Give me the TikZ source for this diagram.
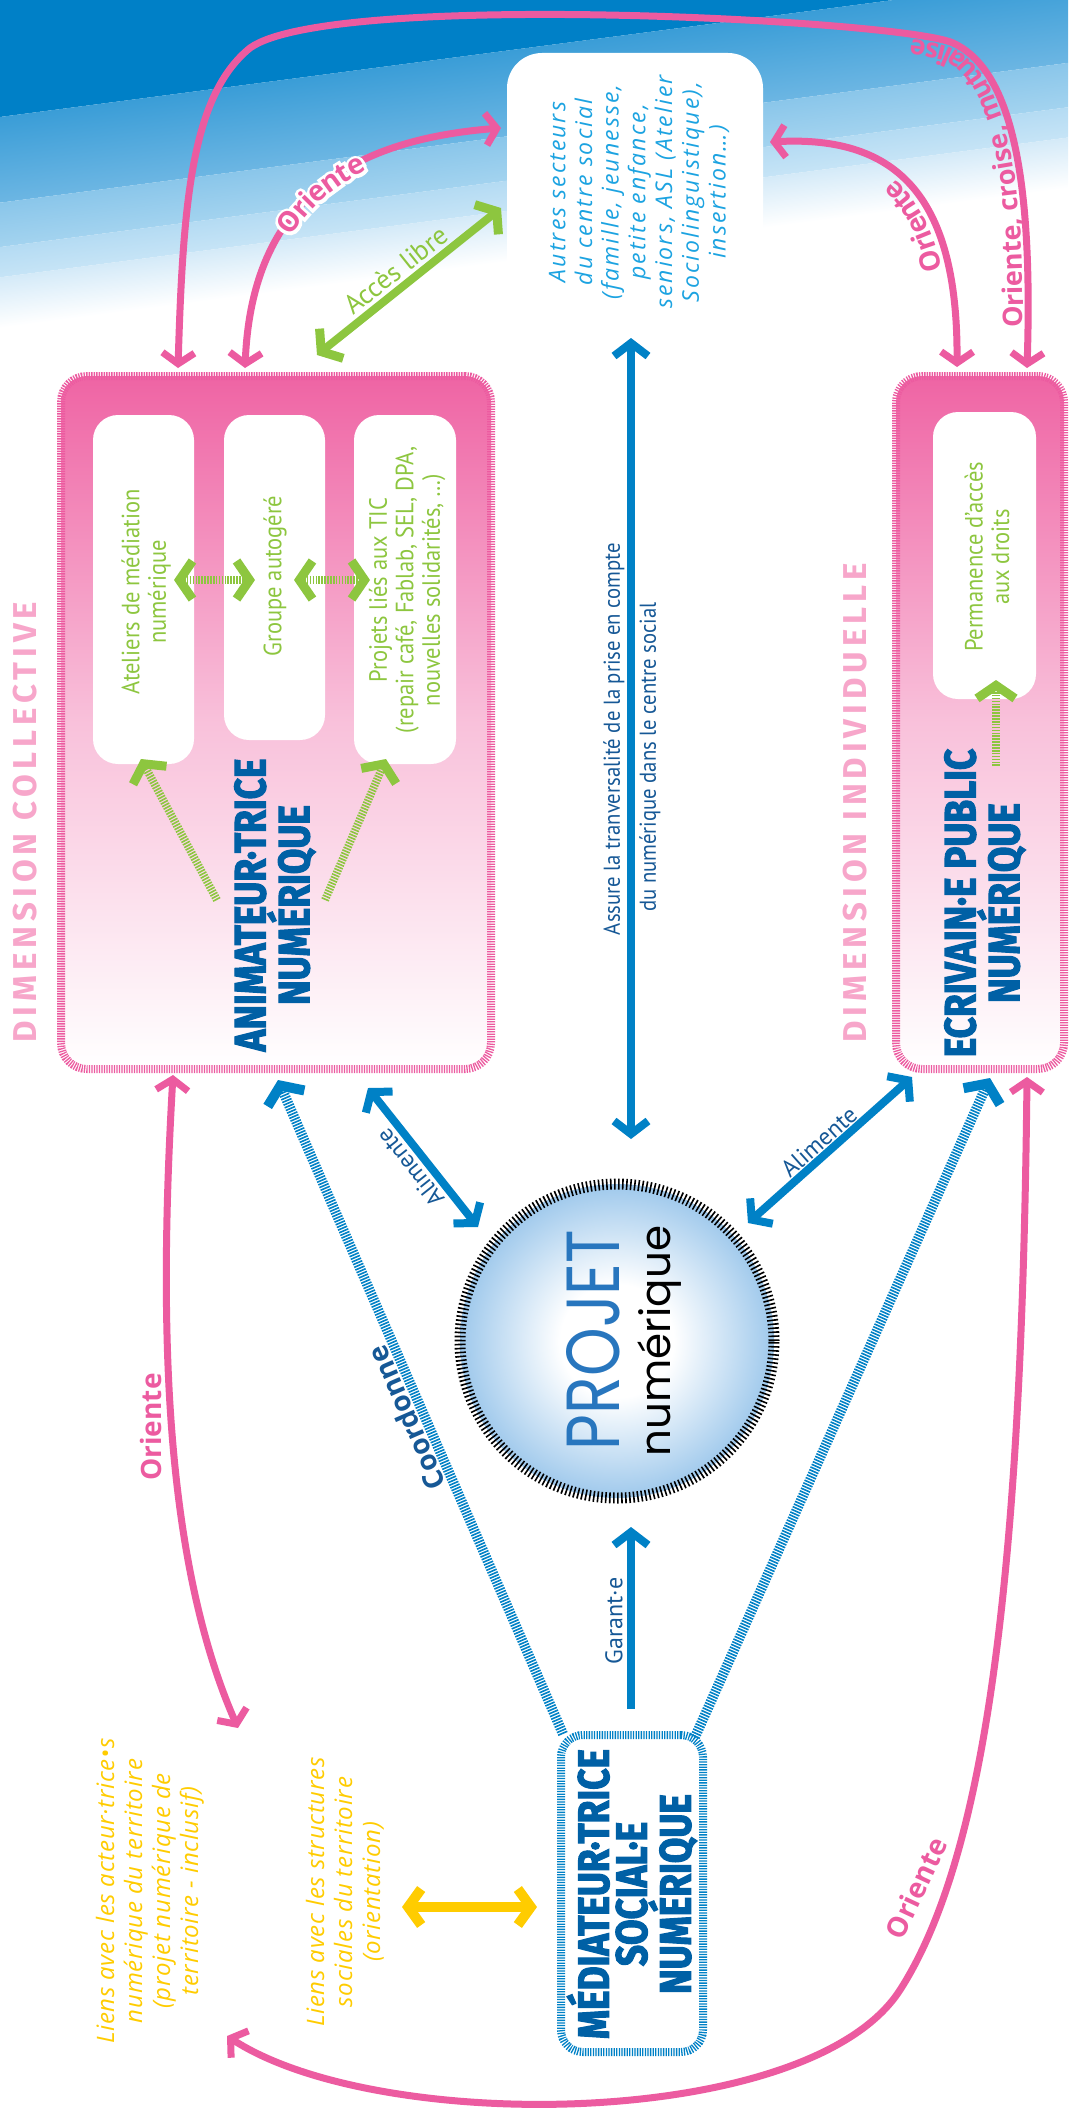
\documentclass[tikz,border=0pt]{standalone}
\usepackage{fontspec}
\usepackage{graphicx}
\usetikzlibrary{arrows.meta,decorations.text}

\newfontfamily\ositf{Open Sans}[LetterSpace=9]
\newfontfamily\yelf{Open Sans}[LetterSpace=3]
\newfontfamily\osbf{Open Sans}
\newfontfamily\halofam{Open Sans}[FakeBold=22]
\newfontfamily\ptcf{PT Sans}[FakeStretch=0.9]
\newfontfamily\ptnf{PT Sans}
\newfontfamily\ttlf{Fira Sans}[FakeStretch=0.84,FakeBold=2.5]
\newfontfamily\dimf{Fira Sans}[LetterSpace=15]
\newfontfamily\popf{Poppins}

\newcommand\orib{\osbf\bfseries\fontsize{27}{27}\selectfont}
\newcommand\oribig{\osbf\bfseries\fontsize{28}{28}\selectfont}
\newcommand\oribighalo{\halofam\bfseries\fontsize{28}{28}\selectfont}

\definecolor{skyA}{RGB}{0,128,199}
\definecolor{skyBa}{RGB}{58,157,215}
\definecolor{skyBb}{RGB}{108,182,227}
\definecolor{skyCa}{RGB}{138,198,234}
\definecolor{skyCb}{RGB}{163,211,239}
\definecolor{skyDa}{RGB}{180,219,243}
\definecolor{skyDb}{RGB}{198,228,246}
\definecolor{skyE}{RGB}{212,234,248}
\definecolor{pinkL}{RGB}{236,91,160}
\definecolor{pinkF}{RGB}{239,100,164}
\definecolor{dimPink}{RGB}{247,166,202}
\definecolor{blueA}{RGB}{0,129,198}
\definecolor{blueT}{RGB}{22,88,150}
\definecolor{blueTitle}{RGB}{0,96,165}
\definecolor{greenC}{RGB}{141,198,63}
\definecolor{yellowC}{RGB}{255,204,0}
\definecolor{cyanT}{RGB}{28,163,225}
\definecolor{projM}{RGB}{140,190,232}
\definecolor{projE}{RGB}{0,118,196}
\definecolor{projT}{RGB}{40,118,190}

\pgfdeclareradialshading{projsh}{\pgfpoint{0bp}{0bp}}{color(0bp)=(white); color(9bp)=(white); color(28bp)=(projM); color(45bp)=(projE); color(50bp)=(projE)}

\tikzset{
  pkt/.tip={Straight Barb[length=11pt,width=32pt]},
  blt/.tip={Straight Barb[length=13pt,width=34pt]},
  bht/.tip={Straight Barb[length=14pt,width=40pt,line width=10pt]},
  grt/.tip={Straight Barb[length=13pt,width=38pt,line width=9pt]},
  ylt/.tip={Straight Barb[length=13pt,width=36pt]},
  pinkbox/.style={draw=pinkL, line width=8pt, dash pattern=on 1.3pt off 1.2pt, rounded corners=26pt, top color=pinkF, bottom color=white, middle color=pinkF!40!white, inner sep=0pt},
  wbox/.style={fill=white, rounded corners=25pt, inner sep=0pt},
  gtext/.style={text=greenC, rotate=90, align=center, font=\ptcf\fontsize{25}{26.5}\selectfont},
  ttl/.style={text=blueTitle, rotate=90, align=center, font=\ttlf\bfseries\fontsize{44}{38}\selectfont},
  dimtxt/.style={text=dimPink, rotate=90, anchor=west, font=\dimf\bfseries\fontsize{33}{33}\selectfont},
  ytext/.style={text=yellowC, rotate=90, align=center, font=\yelf\itshape\fontsize{24}{28}\selectfont},
  blbl/.style={text=blueT, font=\ptnf\fontsize{24}{24}\selectfont},
  blcond/.style={text=blueT, rotate=90, font=\ptcf\fontsize{23}{23}\selectfont},
  orilbl/.style={text=pinkL, font=\oribig},
  pinkline/.style={draw=pinkL, line width=7pt},
  bluearr/.style={draw=blueA, line width=8pt},
  hatchB/.style={draw=blueA, line width=10pt, dash pattern=on 1.6pt off 1.3pt},
  greenh/.style={draw=greenC, line width=8pt, dash pattern=on 1.6pt off 1.3pt},
}

\begin{document}
\begin{tikzpicture}[x=1pt,y=-1pt]
\useasboundingbox (0,0) rectangle (1068,2114);
\fill[white] (0,0) rectangle (1068,2114);

% ---------- sky background ----------
\begin{scope}
\clip (0,0) rectangle (1068,430);
\begin{scope}[transform canvas={rotate=7.46}]
\fill[skyA] (-400,-900) rectangle (1500,116);
\shade[top color=skyBa,bottom color=skyBb] (-400,116) rectangle (1500,201);
\shade[top color=skyCa,bottom color=skyCb] (-400,201) rectangle (1500,245);
\shade[top color=skyDa,bottom color=skyDb] (-400,245) rectangle (1500,275);
\shade[top color=skyE,bottom color=white] (-400,275) rectangle (1500,325);
\end{scope}
\end{scope}

% ---------- Autres secteurs ----------
\node[fill=white, rounded corners=35pt, minimum width=256pt, minimum height=380pt, inner sep=0pt] (autres) at (635,243) {};
\node[rotate=90, align=center, text=cyanT, font=\ositf\itshape\fontsize{23}{26.7}\selectfont] (autrestxt) at (639,192)
 {Autres secteurs\\du centre social\\(famille, jeunesse,\\petite enfance,\\seniors, ASL (Atelier\\Sociolinguistique),\\insertion…)};

% ---------- boxes ----------
\node[pinkbox, minimum width=430pt, minimum height=693pt] (anim) at (276,722.5) {};
\node[pinkbox, minimum width=168pt, minimum height=693pt] (ecri) at (980,722.5) {};
\node[wbox, minimum width=101pt, minimum height=349pt] (boxA) at (143.5,589.5) {};
\node[wbox, minimum width=101pt, minimum height=325pt] (boxB) at (274.5,577.5) {};
\node[wbox, minimum width=102pt, minimum height=349pt] (boxC) at (405,589.5) {};
\node[wbox, minimum width=103pt, minimum height=287pt] (boxP) at (984.5,555.5) {};

\node[gtext] (atxt) at (146,592) {Ateliers de médiation\\numérique};
\node[gtext] (btxt) at (275,576) {Groupe autogéré};
\node[gtext] (ctxt) at (407,590) {Projets liés aux TIC\\(repair café, Fablab, SEL, DPA,\\nouvelles solidarités, …)};
\node[gtext] (ptxt) at (987,557) {Permanence d’accès\\aux droits};

\node[ttl] (animttl) at (275,905) {ANIMATEUR·TRICE\\NUMÉRIQUE};
\node[ttl] (ecrittl) at (985,903) {ECRIVAIN·E PUBLIC\\NUMÉRIQUE};

\node[dimtxt] (dimc) at (25,1046) {DIMENSION COLLECTIVE};
\node[dimtxt] (dimi) at (855,1046) {DIMENSION INDIVIDUELLE};

% green arrows inside boxes
\coordinate (gA1) at (217,900); \coordinate (gA2) at (141,759);
\coordinate (gC1) at (325,900); \coordinate (gC2) at (386,759);
\draw[greenh, -grt] (gA1) -- (gA2);
\draw[greenh, -grt] (gC1) -- (gC2);
\coordinate (gAB1) at (174,580); \coordinate (gAB2) at (255,580);
\coordinate (gBC1) at (294,580); \coordinate (gBC2) at (370,580);
\draw[greenh, grt-grt] (gAB1) -- (gAB2);
\draw[greenh, grt-grt] (gBC1) -- (gBC2);
\coordinate (gP1) at (996,766); \coordinate (gP2) at (996,680);
\draw[greenh, -grt] (gP1) -- (gP2);

% ---------- PROJET ----------
\node[circle, minimum size=314pt, inner sep=0pt, draw=black, line width=11pt, dash pattern=on 1.6pt off 2.4pt, shade, shading=projsh] (proj) at (617,1341) {};
\node[rotate=90, text=projT, font=\popf] (projtxt) at (593.5,1340) {\resizebox{220pt}{53pt}{PROJET}};
\node[rotate=90, text=black, font=\popf\fontsize{42}{42}\selectfont] (numtxt) at (660,1341) {numérique};

% ---------- MEDIATEUR ----------
\node[draw=blueA, line width=8pt, dash pattern=on 1.3pt off 1.3pt, rounded corners=22pt, fill=white, minimum width=142pt, minimum height=317pt, inner sep=0pt] (med) at (632,1893.5) {};
\node[ttl] (medttl) at (632,1894) {MÉDIATEUR·TRICE\\SOCIAL·E\\NUMÉRIQUE};

% ---------- yellow ----------
\node[ytext] (y1) at (150,1891) {Liens avec les acteur·trice•s\\numérique du territoire\\(projet numérique de\\territoire - inclusif)};
\node[ytext] (y2) at (345,1892) {Liens avec les structures\\sociales du territoire\\(orientation)};
\coordinate (yl) at (402,1907); \coordinate (yr) at (537,1907);
\draw[draw=yellowC, line width=10pt, ylt-ylt] (yl) -- (yr);

% ---------- blue arrows ----------
\coordinate (vT) at (631,338); \coordinate (vB) at (631,1139);
\draw[bluearr, blt-blt] (vT) -- (vB);
\node[blcond] (as1) at (614,739) {Assure la tranversalité de la prise en compte};
\node[blcond] (as2) at (650,757) {du numérique dans le centre social};

\coordinate (alL1) at (368,1088); \coordinate (alL2) at (478,1227);
\draw[bluearr, blt-blt] (alL1) -- (alL2);
\node[blbl, rotate=128.4] (alLt) at (410,1168) {Alimente};

\coordinate (alR1) at (748,1223); \coordinate (alR2) at (912,1077);
\draw[bluearr, blt-blt] (alR1) -- (alR2);
\node[blbl, rotate=41.7] (alRt) at (819,1142) {Alimente};

\coordinate (cL1) at (563,1734); \coordinate (cL2) at (278,1080);
\draw[hatchB, -bht] (cL1) -- (cL2);
\node[text=blueT, font=\oribig, rotate=113.5] (coord) at (406,1418) {Coordonne};
\coordinate (cR1) at (695,1737); \coordinate (cR2) at (990,1078);
\draw[hatchB, -bht] (cR1) -- (cR2);

\coordinate (gar1) at (631,1709); \coordinate (gar2) at (631,1527);
\draw[bluearr, -blt] (gar1) -- (gar2);
\node[blbl, rotate=90] (gart) at (614,1621) {Garant·e};

% ---------- Accès libre ----------
\coordinate (ac1) at (317,355); \coordinate (ac2) at (501,208);
\draw[draw=greenC, line width=8pt, grt-grt] (ac1) -- (ac2);
\node[text=greenC, rotate=38.6, font=\ptnf\fontsize{27}{27}\selectfont] (actxt) at (396,270) {Accès libre};

% ---------- pink arcs ----------
\coordinate (bigL) at (178,368);
\coordinate (bigR) at (1027,368);
\draw[pinkline, pkt-pkt] (bigL) .. controls (183,200) and (192,95) .. (250,48) .. controls (330,-10) and (903,20) .. (953,43) .. controls (1003,66) and (1034,150) .. (bigR);
\path[decorate, decoration={text along path, text={|\orib|Oriente, croise, mutualise}, text color=pinkL, text align={left indent=40pt}, raise=5pt}]
  (bigR) .. controls (1034,150) and (1003,66) .. (953,43) .. controls (903,20) and (330,-10) .. (250,48);

\coordinate (tlA) at (245,368); \coordinate (tlB) at (501,128);
\draw[pinkline, pkt-pkt] (tlA) .. controls (252,200) and (350,140) .. (tlB);
\path[decorate, decoration={text along path, text={|\oribighalo|Oriente}, text color=white, text align=center, raise=-10pt}]
  (tlA) .. controls (252,200) and (350,140) .. (tlB);
\path[decorate, decoration={text along path, text={|\oribig|Oriente}, text color=pinkL, text align=center, raise=-10pt}]
  (tlA) .. controls (252,200) and (350,140) .. (tlB);

\coordinate (trA) at (770,142); \coordinate (trB) at (957,367);
\draw[pinkline, pkt-pkt] (trA) .. controls (900,135) and (958,200) .. (trB);
\path[decorate, decoration={text along path, text={|\oribig|Oriente}, text color=pinkL, text align={left indent=100pt}, raise=6pt}]
  (trB) .. controls (958,200) and (900,135) .. (trA);

\coordinate (loA) at (173,1075); \coordinate (loB) at (238,1728);
\draw[pinkline, pkt-pkt] (loA) .. controls (160,1300) and (160,1550) .. (loB);
\node[orilbl, rotate=90] (lot) at (151,1427) {Oriente};

\coordinate (bA) at (1027,1077); \coordinate (bB) at (227,2036);
\draw[pinkline, pkt-pkt] (bA) .. controls (1022,1550) and (990,1850) .. (900,1990) .. controls (810,2130) and (380,2135) .. (bB);
\node[orilbl, rotate=65] (bot) at (916,1888) {Oriente};

\end{tikzpicture}
\end{document}
